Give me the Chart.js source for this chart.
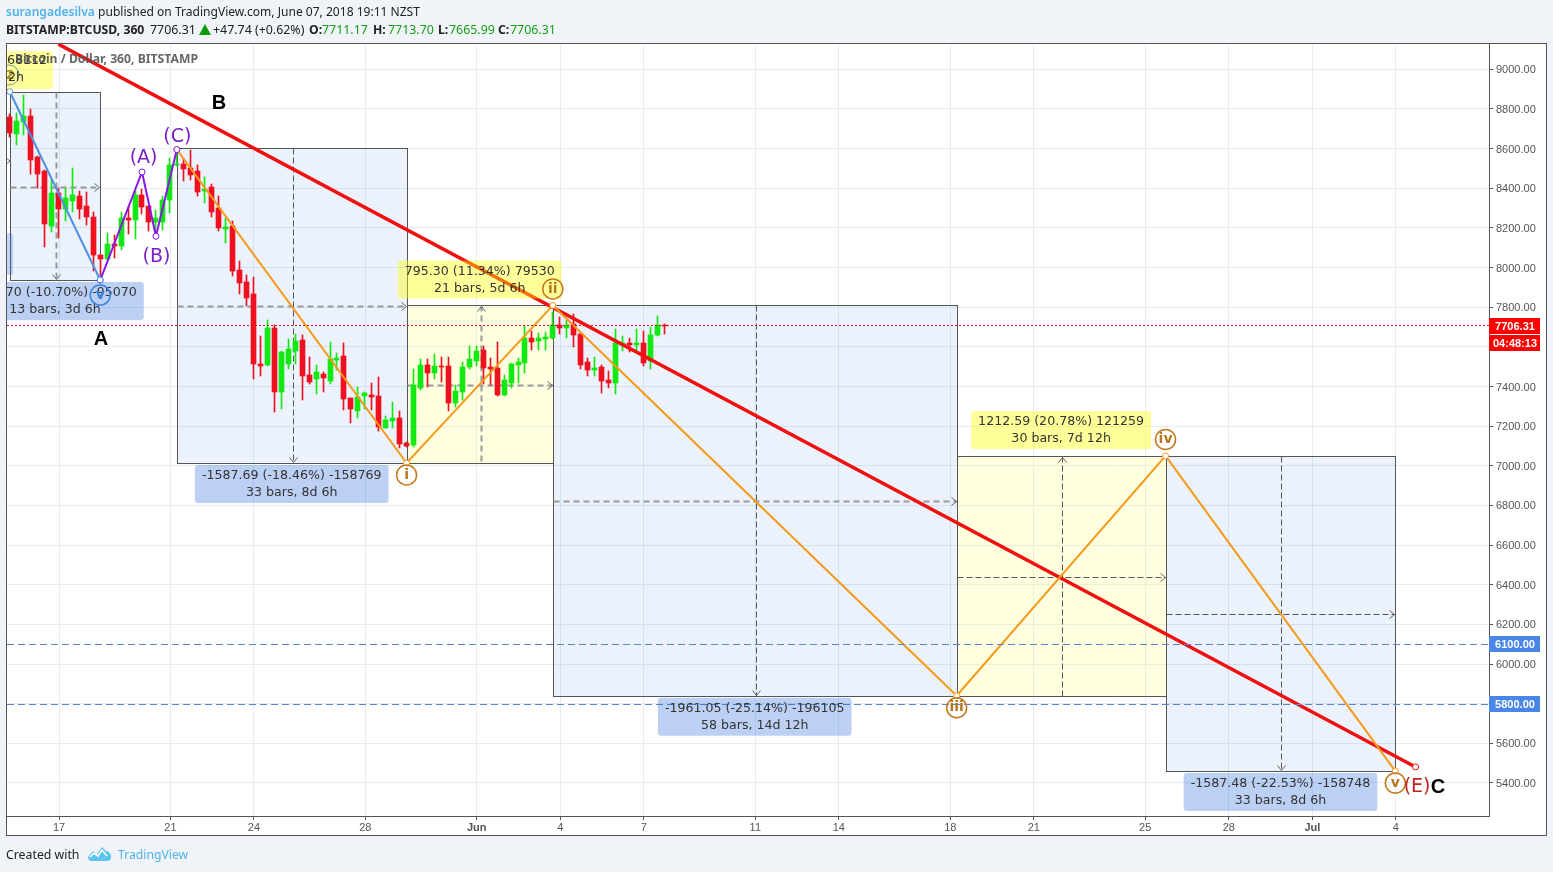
<!DOCTYPE html>
<html>
<head>
<meta charset='utf-8'>
<title>BTCUSD 360</title>
<script src="https://cdn.jsdelivr.net/npm/chart.js@4/dist/chart.umd.min.js"></script>
<style>
    html, body { margin: 0; background: #f0f3f8; overflow: hidden; }
    #chart { position: absolute; left: 0; top: 0; }
    .row { position: absolute; left: 6px; font: 12.05px "Noto Sans", sans-serif; color: #222; white-space: nowrap; }
    .v { position: absolute; top: 21px; font: 12.4px "Noto Sans", sans-serif; color: #222; white-space: nowrap; }
    .b { font-weight: 700; font-size: 12.2px; }
    .up { color: #14a314; }
    .blue { color: #4fb3e8; }
    #logo { position: absolute; left: 88px; top: 845px; }
    #tri { position: absolute; left: 199px; top: 24px; }
</style>
</head>
<body>
<canvas id="chart" width="1553" height="872"></canvas>
<div class="row" style="top:3px"><span class="blue" style="font-weight:600">surangadesilva</span> published on TradingView.com, June 07, 2018 19:11 NZST</div>
<span class="v b" style="left:6px">BITSTAMP:BTCUSD, 360</span>
<span class="v" style="left:150px">7706.31</span>
<svg id="tri" width="12" height="11"><path d="M6 0 L12 11 L0 11 Z" fill="#0a9a0a"/></svg>
<span class="v" style="left:213px">+47.74 (+0.62%)</span>
<span class="v b" style="left:309px">O:</span><span class="v up" style="left:322px">7711.17</span>
<span class="v b" style="left:373px">H:</span><span class="v up" style="left:388px">7713.70</span>
<span class="v b" style="left:438px">L:</span><span class="v up" style="left:449px">7665.99</span>
<span class="v b" style="left:498px">C:</span><span class="v up" style="left:510px">7706.31</span>
<div class="row" style="top:846px;font-size:12.3px">Created with</div>
<svg id="logo" width="24" height="17" viewBox="0 0 24 17"><path d="M0 12 L5 6 L9 9 L14 2 L18 6 Q23 7 23 12 Q23 16 19 16 L4 16 Q0 16 0 12 Z" fill="#5cc4ee"/><path d="M2 12 L6 8 L10 11 L14 5 L19 11" fill="none" stroke="#fff" stroke-width="1.6"/></svg>
<div class="row blue" style="top:846px;left:118px;font-size:12.2px">TradingView</div>
<script>
    // 6h candles, bar 0 = May 17 00:00
    var firstBar = -7;
    var barShift = -0.08; // candles sit a little left of the date grid
    var opens = [8758,8674,8736,8764,8559,8487,8210,8376,8295,8336,
        8361,8310,8255,8063,8043,8119,8109,8250,8240,8366,
        8310,8230,8230,8341,8516,8522,8502,8487,8386,8406,
        8300,8195,8210,7988,7927,7867,7514,7509,7695,7372,
        7514,7579,7635,7458,7438,7463,7428,7534,7554,7342,
        7276,7352,7357,7352,7191,7226,7241,7115,7105,7393,
        7509,7468,7504,7504,7317,7372,7498,7529,7584,7498,
        7493,7357,7418,7509,7519,7645,7630,7640,7645,7710,
        7695,7715,7665,7524,7483,7498,7433,7418,7610,7620,
        7610,7620,7529,7660,7711.17];
    var highs = [8775,8778,8870,8800,8562,8490,8442,8401,8401,8502,
        8386,8381,8280,8063,8174,8164,8280,8305,8391,8396,
        8310,8290,8361,8553,8598,8553,8593,8517,8457,8421,
        8361,8250,8235,8033,7962,7952,7655,7736,7710,7579,
        7640,7665,7660,7549,7509,7473,7625,7569,7620,7342,
        7398,7372,7418,7448,7251,7322,7276,7120,7488,7539,
        7539,7564,7549,7549,7408,7524,7604,7604,7604,7544,
        7625,7458,7519,7544,7705,7680,7670,7675,7776,7750,
        7736,7766,7670,7544,7549,7509,7478,7690,7655,7645,
        7690,7680,7700,7756,7713.70];
    var lows = [8660,8618,8669,8472,8401,8105,8181,8149,8235,8280,
        8245,8215,7983,7962,8038,8048,8089,8169,8144,8270,
        8184,8174,8190,8275,8512,8437,8442,8361,8326,8255,
        8184,8124,7957,7867,7806,7438,7453,7505,7271,7287,
        7488,7514,7332,7413,7362,7372,7413,7483,7282,7216,
        7241,7287,7282,7176,7191,7191,7090,7095,7095,7382,
        7398,7438,7423,7276,7297,7332,7488,7504,7413,7408,
        7352,7352,7393,7418,7468,7584,7584,7584,7640,7665,
        7645,7600,7488,7453,7453,7367,7393,7362,7579,7574,
        7579,7504,7488,7655,7665.99];
    var closes = [8677,8739,8764,8543,8472,8220,8376,8295,8351,8366,
        8295,8255,8063,8043,8119,8111,8250,8240,8366,8305,
        8230,8250,8341,8517,8522,8497,8467,8381,8396,8280,
        8200,8205,7983,7922,7847,7514,7504,7695,7372,7574,
        7589,7630,7453,7423,7473,7443,7539,7544,7337,7287,
        7347,7367,7347,7196,7231,7241,7110,7100,7408,7509,
        7468,7504,7498,7317,7377,7498,7539,7579,7493,7488,
        7357,7433,7514,7524,7645,7625,7645,7650,7710,7695,
        7710,7660,7509,7483,7493,7428,7418,7620,7620,7610,
        7620,7519,7660,7710,7706.31];

    var xTickBars = [0,16,28,44,60,72,84,100,112,128,140,156,168,180,192];
    var xTickLabels = ['17','21','24','28','Jun','4','7','11','14','18','21','25','28','Jul','4'];
    var yTicks = [5400,5600,5800,6000,6200,6400,6600,6800,7000,7200,7400,7600,7800,8000,8200,8400,8600,8800,9000];

    // wave drawings
    var blueBars = [-7,6],  bluePrices = [8888,7937];
    var purpleBars = [6,12,14,17], purplePrices = [7937,8482,8158,8595];
    var orangeBars = [17,50,71,129,159,192], orangePrices = [8595,7014,7809,5840,7050,5460];
    var trendBars = [0,194.9], trendPrices = [9127,5481];

    // measure boxes
    var boxFrom = [-7,17,50,71,129,159];
    var boxTo = [6,50,71,129,159,192];
    var boxStart = [8888,8601,7014,7809,5840,7050];
    var boxEnd = [7937,7014,7809,5840,7050,5460];
    var boxText1 = ['-950.70 (-10.70%) -95070','-1587.69 (-18.46%) -158769','795.30 (11.34%) 79530','-1961.05 (-25.14%) -196105','1212.59 (20.78%) 121259','-1587.48 (-22.53%) -158748'];
    var boxText2 = ['13 bars, 3d 6h','33 bars, 8d 6h','21 bars, 5d 6h','58 bars, 14d 12h','30 bars, 7d 12h','33 bars, 8d 6h'];

    var lastPrice = 7706.31, countdown = '04:48:13';
    var levels = [6100,5800];

    var cRed = '#ef1020', cGreen = '#12e812';
    var bars = opens.map(function (v, k) { return firstBar + k + barShift; });
    var candleColors = opens.map(function (v, k) { return closes[k] >= v ? cGreen : cRed; });

    function points(xs, ys) { return xs.map(function (x, k) { return { x: x + barShift, y: ys[k] }; }); }
    function lineSet(xs, ys, color, width) {
        return {
            type: 'line', data: points(xs, ys), borderColor: color, borderWidth: width, order: 1,
            pointRadius: 3, pointBorderWidth: 1, pointBackgroundColor: '#fff', pointBorderColor: color, tension: 0
        };
    }

    function arrow(ctx, x, y, dx, dy, color) {
        // open arrow head pointing along dx,dy
        ctx.save();
        ctx.setLineDash([]);
        ctx.strokeStyle = color; ctx.lineWidth = 1;
        ctx.beginPath();
        ctx.moveTo(x - dx * 5 - dy * 4, y - dy * 5 - dx * 4);
        ctx.lineTo(x, y);
        ctx.lineTo(x - dx * 5 + dy * 4, y - dy * 5 + dx * 4);
        ctx.stroke();
        ctx.restore();
    }
    function circleLabel(ctx, x, y, text, color, textColor) {
        ctx.beginPath();
        ctx.arc(x, y, 10, 0, Math.PI * 2);
        ctx.strokeStyle = color; ctx.lineWidth = 1.5; ctx.stroke();
        ctx.fillStyle = textColor || color; ctx.font = 'bold 14px "DejaVu Sans"';
        ctx.textAlign = 'center'; ctx.textBaseline = 'middle';
        ctx.fillText(text, x, y);
    }
    function plainText(ctx, text, x, y, font, color) {
        ctx.font = font; ctx.fillStyle = color;
        ctx.textAlign = 'center'; ctx.textBaseline = 'middle';
        ctx.fillText(text, x, y);
    }
    function tag(ctx, area, y, h, text, color) {
        ctx.fillStyle = color;
        ctx.fillRect(area.right, y, 51, h);
        ctx.fillStyle = '#fff';
        ctx.font = 'bold 11px "Liberation Sans"';
        ctx.textAlign = 'center'; ctx.textBaseline = 'middle';
        ctx.fillText(text, area.right + 26, y + h / 2 + 0.5);
    }

    var drawings = {
        id: 'drawings',
        afterDatasetsUpdate: function (chart) {
            // keep candles on whole pixels
            chart.data.datasets.forEach(function (d, n) {
                if (d.type !== 'bar') return;
                chart.getDatasetMeta(n).data.forEach(function (el) {
                    el.x = Math.floor(el.x) + 0.5;
                    el.y = Math.round(el.y);
                    el.base = Math.round(el.base);
                });
            });
        },
        beforeDraw: function (chart) {
            var ctx = chart.ctx;
            ctx.save();
            ctx.fillStyle = '#fff';
            ctx.fillRect(6, 43, 1540, 792);
            ctx.restore();
        },
        beforeDatasetsDraw: function (chart) {
            var ctx = chart.ctx, a = chart.chartArea, x = chart.scales.x, y = chart.scales.y;
            ctx.save();
            ctx.beginPath(); ctx.rect(a.left, a.top, a.right - a.left, a.bottom - a.top); ctx.clip();
            boxFrom.forEach(function (b, k) {
                var l = Math.round(x.getPixelForValue(b + barShift)) + 0.5, r = Math.round(x.getPixelForValue(boxTo[k] + barShift)) + 0.5;
                var t0 = Math.round(y.getPixelForValue(boxStart[k])) + 0.5, t1 = Math.round(y.getPixelForValue(boxEnd[k])) + 0.5;
                var top = Math.min(t0, t1), bot = Math.max(t0, t1);
                var up = t1 < t0;
                ctx.fillStyle = up ? 'rgba(255,255,0,0.12)' : 'rgba(30,110,220,0.09)';
                ctx.fillRect(l, top, r - l, bot - top);
                ctx.strokeStyle = '#555'; ctx.lineWidth = 1; ctx.setLineDash([]);
                ctx.strokeRect(l, top, r - l, bot - top);
                var mx = Math.round((l + r) / 2) + 0.5, my = Math.round((top + bot) / 2) + 0.5;
                var thickH = k < 4, thickV = k === 0 || k === 2;
                // horizontal dashed
                ctx.strokeStyle = thickH ? '#9a9a9a' : '#555'; ctx.lineWidth = thickH ? 2 : 1;
                ctx.setLineDash(thickH ? [6, 4] : [6, 3]);
                ctx.beginPath(); ctx.moveTo(l, my); ctx.lineTo(r, my); ctx.stroke();
                arrow(ctx, r - 1, my, 1, 0, '#666');
                // vertical dashed
                ctx.strokeStyle = thickV ? '#9a9a9a' : '#555'; ctx.lineWidth = thickV ? 2 : 1;
                ctx.setLineDash(thickV ? [6, 4] : [6, 3]);
                ctx.beginPath(); ctx.moveTo(mx, top); ctx.lineTo(mx, bot); ctx.stroke();
                arrow(ctx, mx, up ? top + 1 : bot - 1, 0, up ? -1 : 1, '#666');
            });
            ctx.setLineDash([]);
            // cut off blue label and arrow from earlier drawing at left edge
            arrow(ctx, 10, 161, 1, 0, '#666');
            ctx.fillStyle = 'rgba(33,100,220,0.26)';
            ctx.beginPath(); ctx.roundRect(a.left - 20, 233, 26, 42, 3); ctx.fill();
            ctx.restore();
        },
        afterDatasetsDraw: function (chart) {
            var ctx = chart.ctx, a = chart.chartArea, x = chart.scales.x, y = chart.scales.y;
            ctx.save();
            ctx.beginPath(); ctx.rect(a.left, a.top, a.right - a.left, a.bottom - a.top); ctx.clip();

            // horizontal levels
            ctx.lineWidth = 1;
            ctx.strokeStyle = '#5a86d0'; ctx.setLineDash([7, 4]);
            levels.forEach(function (p) {
                var py = Math.round(y.getPixelForValue(p)) + 0.5;
                ctx.beginPath(); ctx.moveTo(a.left, py); ctx.lineTo(a.right, py); ctx.stroke();
            });
            ctx.strokeStyle = '#d8141c'; ctx.setLineDash([2, 2]);
            var ly = Math.round(y.getPixelForValue(lastPrice)) - 0.5;
            ctx.beginPath(); ctx.moveTo(a.left, ly); ctx.lineTo(a.right, ly); ctx.stroke();
            ctx.setLineDash([]);

            // top left fragment of cut off label
            ctx.fillStyle = 'rgba(255,255,0,0.4)';
            ctx.beginPath(); ctx.roundRect(a.left - 20, 51, 66, 38, 4); ctx.fill();
            ctx.beginPath(); ctx.arc(9, 75, 10, 0, Math.PI * 2); ctx.strokeStyle = '#6f9c9c'; ctx.lineWidth = 1; ctx.stroke();
            plainText(ctx, '2', 10, 76, 'bold 13px "DejaVu Sans"', '#a88a2a');
            ctx.textAlign = 'left'; ctx.textBaseline = 'middle'; ctx.font = '12.6px "DejaVu Sans"'; ctx.fillStyle = '#333';
            ctx.fillText('68112', 7, 61);
            ctx.fillText('2h', 8, 78);

            // box labels
            boxFrom.forEach(function (b, k) {
                var up = boxEnd[k] > boxStart[k];
                var cx = (x.getPixelForValue(b + barShift) + x.getPixelForValue(boxTo[k] + barShift)) / 2;
                var edge = y.getPixelForValue(boxEnd[k]);
                ctx.font = '12.6px "DejaVu Sans"';
                var w = ctx.measureText(boxText1[k]).width + 14, h = 38;
                var top = up ? edge - h - 7 : edge + 2;
                ctx.fillStyle = up ? 'rgba(255,255,0,0.4)' : 'rgba(33,100,220,0.3)';
                ctx.beginPath(); ctx.roundRect(cx - w / 2, top, w, h, 3); ctx.fill();
                ctx.fillStyle = '#333'; ctx.textAlign = 'center'; ctx.textBaseline = 'middle';
                ctx.fillText(boxText1[k], cx, top + 11);
                ctx.fillText(boxText2[k], cx, top + 28);
            });

            // wave marks, anchored on the drawing points
            var orange = '#c4781a';
            ['i', 'ii', 'iii', 'iv', 'v'].forEach(function (t, k) {
                var px = x.getPixelForValue(orangeBars[k + 1] + barShift), py = y.getPixelForValue(orangePrices[k + 1]);
                var below = k % 2 === 0;
                circleLabel(ctx, px, py + (below ? 12 : -16.5), t, orange, '#b8761a');
            });
            circleLabel(ctx, x.getPixelForValue(blueBars[1] + barShift), y.getPixelForValue(bluePrices[1]) + 15, 'v', '#3d84e0');

            var pf = '19px "DejaVu Sans"', purple = '#7a1fc4';
            plainText(ctx, '(A)', x.getPixelForValue(purpleBars[1]) + 1, y.getPixelForValue(purplePrices[1]) - 14, pf, purple);
            plainText(ctx, '(B)', x.getPixelForValue(purpleBars[2]) + 0, y.getPixelForValue(purplePrices[2]) + 21, pf, purple);
            plainText(ctx, '(C)', x.getPixelForValue(purpleBars[3]), y.getPixelForValue(purplePrices[3]) - 13, pf, purple);
            plainText(ctx, '(E)', x.getPixelForValue(trendBars[1]) + 1, y.getPixelForValue(trendPrices[1]) + 20, pf, '#c42020');

            var bf = 'bold 20px "Liberation Sans"';
            plainText(ctx, 'A', 101, 339, bf, '#000');
            plainText(ctx, 'B', 219, 103, bf, '#000');
            plainText(ctx, 'C', 1438, 787, bf, '#000');

            ctx.textAlign = 'left'; ctx.font = 'bold 12.2px "Noto Sans"'; ctx.fillStyle = 'rgba(85,85,85,0.9)';
            ctx.fillText('Bitcoin / Dollar, 360, BITSTAMP', 15, 60);
            ctx.restore();

            // frame and price tags
            ctx.save();
            ctx.strokeStyle = '#555'; ctx.lineWidth = 1;
            ctx.strokeRect(6.5, 43.5, 1540, 792);
            ctx.strokeRect(6.5, 43.5, a.right - 6, a.bottom - 43);
            levels.forEach(function (p) {
                tag(ctx, a, Math.round(y.getPixelForValue(p)) - 8, 16, p.toFixed(2), '#4a86e8');
            });
            tag(ctx, a, 318, 16, lastPrice.toFixed(2), '#ff0000');
            tag(ctx, a, 335, 16, countdown, '#ff0000');
            ctx.restore();
        }
    };

    new Chart(document.getElementById('chart').getContext('2d'), {
        data: {
            datasets: [
                {
                    type: 'bar', order: 6, grouped: false, barThickness: 1,
                    data: bars.map(function (b, k) { return { x: b, y: [lows[k], highs[k]] }; }),
                    backgroundColor: candleColors
                },
                {
                    type: 'bar', order: 5, grouped: false, barThickness: 5,
                    data: bars.map(function (b, k) { return { x: b, y: [opens[k], closes[k]] }; }),
                    backgroundColor: candleColors
                },
                lineSet(blueBars, bluePrices, '#4f8fe0', 2),
                lineSet(purpleBars, purplePrices, '#8a17e8', 2),
                lineSet(orangeBars, orangePrices, '#f59a1a', 2),
                Object.assign(lineSet(trendBars, trendPrices, '#f01010', 3.5), { pointRadius: [0, 3] })
            ]
        },
        options: {
            responsive: false,
            animation: false,
            layout: { padding: { left: 7, top: 44, right: 7, bottom: 37 } },
            plugins: { legend: { display: false }, tooltip: { enabled: false } },
            scales: {
                x: {
                    type: 'linear', min: -7.468, max: 205.37, offset: false,
                    afterBuildTicks: function (s) { s.ticks = xTickBars.map(function (v) { return { value: v }; }); },
                    afterFit: function (s) { s.height = 19; },
                    grid: { color: '#e4edf5', tickColor: '#555', tickLength: 4, drawTicks: true, offset: false },
                    border: { display: false },
                    ticks: {
                        autoSkip: false, maxRotation: 0, padding: 1, color: '#555',
                        font: function (c) {
                            var bold = c.tick && (c.tick.value === 60 || c.tick.value === 180);
                            return { family: 'Liberation Sans', size: 11, weight: bold ? 'bold' : 'normal' };
                        },
                        callback: function (v) { return xTickLabels[xTickBars.indexOf(v)]; }
                    }
                },
                y: {
                    type: 'linear', position: 'right', min: 5233.5, max: 9127.6,
                    afterBuildTicks: function (s) { s.ticks = yTicks.map(function (v) { return { value: v }; }); },
                    afterFit: function (s) { s.width = 57; },
                    grid: { color: '#e4edf5', tickColor: '#555', tickLength: 4 },
                    border: { display: false },
                    ticks: {
                        padding: 3, labelOffset: 1, color: '#555', font: { family: 'Liberation Sans', size: 11 },
                        callback: function (v) { return v.toFixed(2); }
                    }
                }
            }
        },
        plugins: [drawings]
    });
</script>
</body>
</html>
